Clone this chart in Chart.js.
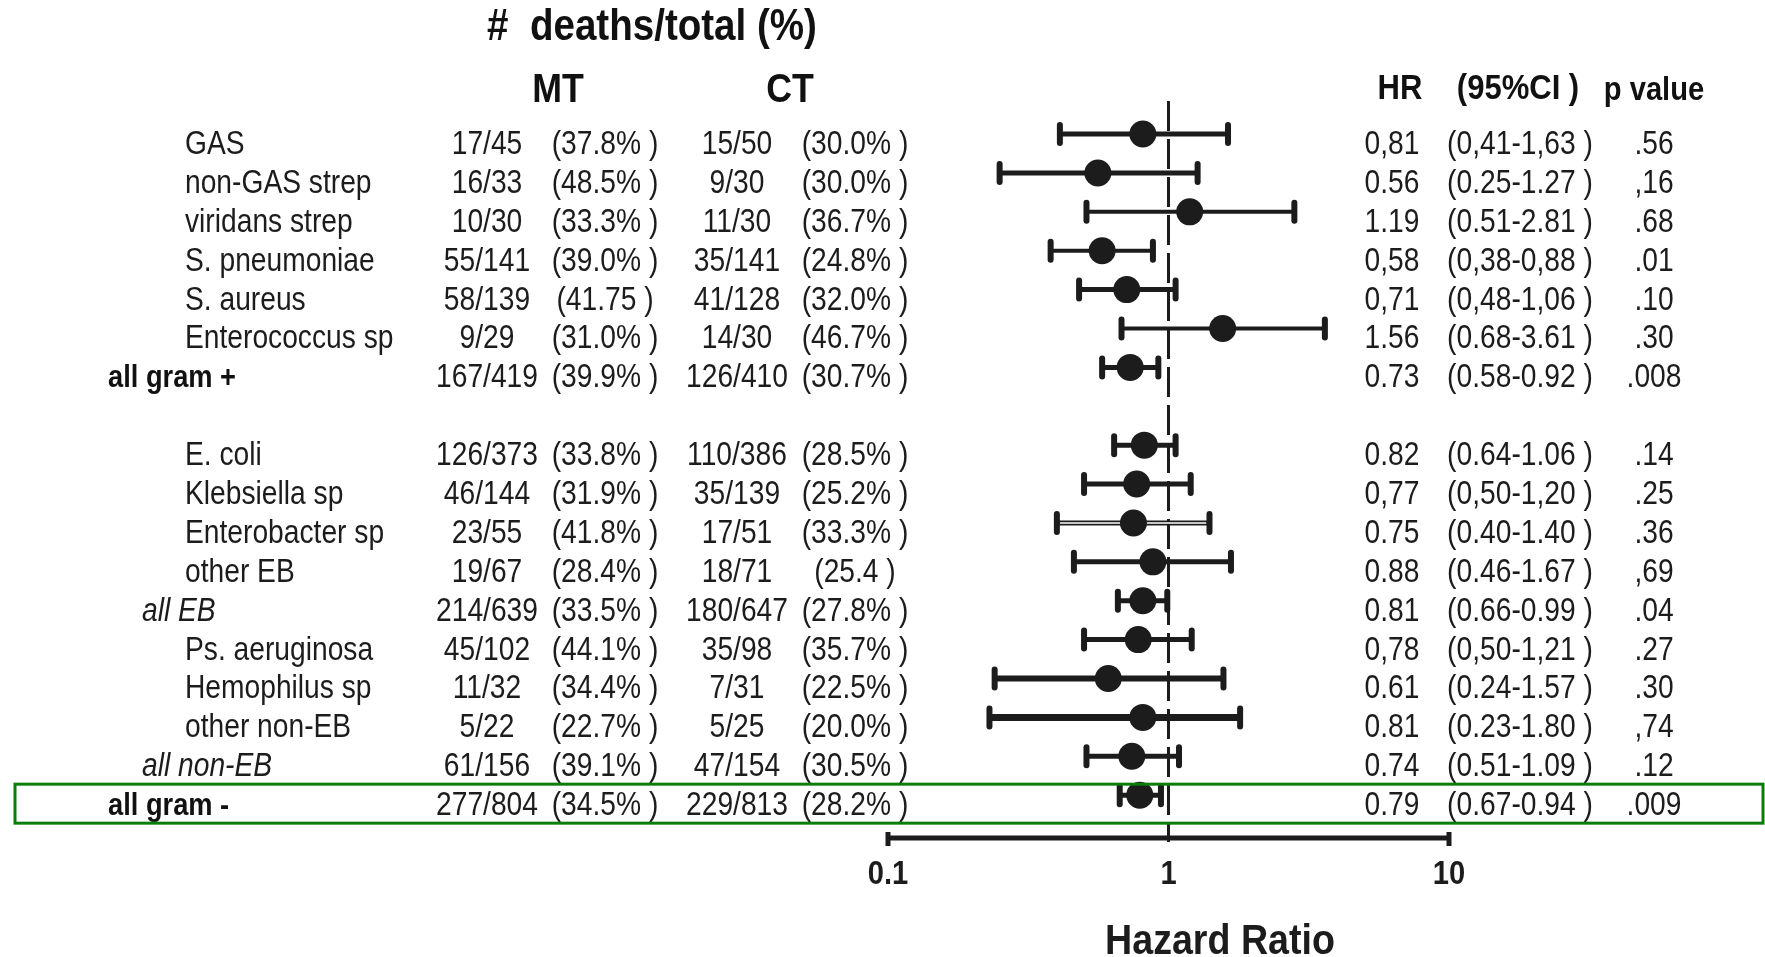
<!DOCTYPE html>
<html>
<head>
<meta charset="utf-8">
<script src="https://cdn.jsdelivr.net/npm/chart.js@4.4.1/dist/chart.umd.min.js"></script>
<style>
  body { margin: 0; background: #fff; }
  #wrap { width: 1765px; height: 957px; }
</style>
</head>
<body>
<div id="wrap"><canvas id="forest" width="1765" height="957"></canvas></div>
<script>
// ---- data ----
const groups = ['GAS', 'non-GAS strep', 'viridans strep', 'S. pneumoniae', 'S. aureus', 'Enterococcus sp', 'all gram +',
                'E. coli', 'Klebsiella sp', 'Enterobacter sp', 'other EB', 'all EB',
                'Ps. aeruginosa', 'Hemophilus sp', 'other non-EB', 'all non-EB', 'all gram -'];
// row slot of each group (slot 7 is the blank line between gram + and gram -)
const rowSlots = [0, 1, 2, 3, 4, 5, 6, 8, 9, 10, 11, 12, 13, 14, 15, 16, 17];
// 'b' = bold total, 'i' = italic subtotal, '' = plain
const rowKind = ['', '', '', '', '', '', 'b', '', '', '', '', 'i', '', '', '', 'i', 'b'];

const mtDeaths = ['17/45', '16/33', '10/30', '55/141', '58/139', '9/29', '167/419',
                  '126/373', '46/144', '23/55', '19/67', '214/639', '45/102', '11/32', '5/22', '61/156', '277/804'];
const mtPct = ['(37.8% )', '(48.5% )', '(33.3% )', '(39.0% )', '(41.75 )', '(31.0% )', '(39.9% )',
               '(33.8% )', '(31.9% )', '(41.8% )', '(28.4% )', '(33.5% )', '(44.1% )', '(34.4% )', '(22.7% )', '(39.1% )', '(34.5% )'];
const ctDeaths = ['15/50', '9/30', '11/30', '35/141', '41/128', '14/30', '126/410',
                  '110/386', '35/139', '17/51', '18/71', '180/647', '35/98', '7/31', '5/25', '47/154', '229/813'];
const ctPct = ['(30.0% )', '(30.0% )', '(36.7% )', '(24.8% )', '(32.0% )', '(46.7% )', '(30.7% )',
               '(28.5% )', '(25.2% )', '(33.3% )', '(25.4 )', '(27.8% )', '(35.7% )', '(22.5% )', '(20.0% )', '(30.5% )', '(28.2% )'];

const hazardRatio = [0.81, 0.56, 1.19, 0.58, 0.71, 1.56, 0.73, 0.82, 0.77, 0.75, 0.88, 0.81, 0.78, 0.61, 0.81, 0.74, 0.79];
const ciLow  = [0.41, 0.25, 0.51, 0.38, 0.48, 0.68, 0.58, 0.64, 0.50, 0.40, 0.46, 0.66, 0.50, 0.24, 0.23, 0.51, 0.67];
const ciHigh = [1.63, 1.27, 2.81, 0.88, 1.06, 3.61, 0.92, 1.06, 1.20, 1.40, 1.67, 0.99, 1.21, 1.57, 1.80, 1.09, 0.94];

const hrText = ['0,81', '0.56', '1.19', '0,58', '0,71', '1.56', '0.73', '0.82', '0,77', '0.75', '0.88', '0.81', '0,78', '0.61', '0.81', '0.74', '0.79'];
const ciText = ['(0,41-1,63 )', '(0.25-1.27 )', '(0.51-2.81 )', '(0,38-0,88 )', '(0,48-1,06 )', '(0.68-3.61 )', '(0.58-0.92 )',
                '(0.64-1.06 )', '(0,50-1,20 )', '(0.40-1.40 )', '(0.46-1.67 )', '(0.66-0.99 )', '(0,50-1,21 )', '(0.24-1.57 )',
                '(0.23-1.80 )', '(0.51-1.09 )', '(0.67-0.94 )'];
const pText = ['.56', ',16', '.68', '.01', '.10', '.30', '.008', '.14', '.25', '.36', ',69', '.04', '.27', '.30', ',74', '.12', '.009'];

const axisTicks = [0.1, 1, 10];
const axisTitle = 'Hazard Ratio';

// ---- styling ----
const INK = '#1c1c1c';
const FONT = '"Liberation Sans", Arial, sans-serif';
const barWidth = [5, 5, 4, 4, 5, 4, 5, 5, 5, 5, 5, 5, 5, 6, 7, 5, 5];
const TEXT_DROP = 11;  // text sits a bit lower than the marker row
const BOX_DROP = 8;

function drawText(ctx, s, x, y, font, align, color, sy) {
    ctx.save();
    ctx.font = font;
    ctx.fillStyle = color || INK;
    ctx.textAlign = align;
    ctx.textBaseline = 'middle';
    ctx.translate(x, y);
    ctx.scale(0.94, sy || 1.08);
    ctx.fillText(s, 0, 0);
    ctx.restore();
}

const forestPlugin = {
    id: 'forest',
    beforeDatasetsDraw(chart) {
        const ctx = chart.ctx;
        const xs = chart.scales.x, ys = chart.scales.y;
        const area = chart.chartArea;
        const x1 = xs.getPixelForValue(1);

        // reference line at HR = 1
        ctx.save();
        ctx.strokeStyle = INK;
        ctx.lineWidth = 3;
        ctx.setLineDash([30, 8]);
        ctx.beginPath();
        ctx.moveTo(x1, area.top);
        ctx.lineTo(x1, area.bottom + 6);
        ctx.stroke();
        ctx.restore();

        // confidence intervals
        ctx.save();
        ctx.strokeStyle = INK;
        groups.forEach((g, i) => {
            const y = ys.getPixelForValue(rowSlots[i]);
            const a = xs.getPixelForValue(ciLow[i]);
            const b = xs.getPixelForValue(ciHigh[i]);
            ctx.lineCap = 'butt';
            ctx.lineWidth = barWidth[i];
            ctx.beginPath();
            ctx.moveTo(a, y);
            ctx.lineTo(b, y);
            ctx.stroke();
            if (g === 'Enterobacter sp') {
                ctx.save();
                ctx.strokeStyle = '#fff';
                ctx.lineWidth = 1.5;
                ctx.beginPath();
                ctx.moveTo(a + 3, y);
                ctx.lineTo(b - 3, y);
                ctx.stroke();
                ctx.restore();
            }
            ctx.lineCap = 'round';
            ctx.lineWidth = 6;
            [a, b].forEach(px => {
                ctx.beginPath();
                ctx.moveTo(px, y - 9);
                ctx.lineTo(px, y + 9);
                ctx.stroke();
            });
        });
        ctx.restore();

        // x axis
        const l = xs.getPixelForValue(axisTicks[0]);
        const r = xs.getPixelForValue(axisTicks[axisTicks.length - 1]);
        const ay = area.bottom + 2;
        ctx.save();
        ctx.strokeStyle = INK;
        ctx.lineWidth = 5;
        ctx.beginPath();
        ctx.moveTo(l, ay);
        ctx.lineTo(r, ay);
        ctx.stroke();
        [l, r].forEach(px => {
            ctx.beginPath();
            ctx.moveTo(px, ay - 6);
            ctx.lineTo(px, ay + 8);
            ctx.stroke();
        });
        ctx.restore();
        axisTicks.forEach(t => {
            drawText(ctx, String(t), xs.getPixelForValue(t), ay + 37, 'bold 31px ' + FONT, 'center');
        });
        drawText(ctx, axisTitle, 1220, 942, 'bold 40px ' + FONT, 'center');
    },
    afterDraw(chart) {
        const ctx = chart.ctx;
        const ys = chart.scales.y;

        // headers
        drawText(ctx, '#  deaths/total (%)', 652, 28, 'bold 41px ' + FONT, 'center', '#111');
        drawText(ctx, 'MT', 558, 91, 'bold 38px ' + FONT, 'center', '#111');
        drawText(ctx, 'CT', 790, 91, 'bold 38px ' + FONT, 'center', '#111');
        drawText(ctx, 'HR', 1400, 89, 'bold 33px ' + FONT, 'center', '#111');
        drawText(ctx, '(95%CI )', 1518, 89, 'bold 33px ' + FONT, 'center', '#111');
        drawText(ctx, 'p value', 1654, 91, 'bold 31px ' + FONT, 'center', '#111');

        const body = '30px ' + FONT;
        groups.forEach((g, i) => {
            const y = ys.getPixelForValue(rowSlots[i]) + TEXT_DROP;
            if (rowKind[i] === 'b') {
                drawText(ctx, g, 108, y, 'bold 29px ' + FONT, 'left', '#111');
            } else if (rowKind[i] === 'i') {
                drawText(ctx, g, 142, y, 'italic ' + body, 'left');
            } else {
                drawText(ctx, g, 185, y, body, 'left');
            }
            drawText(ctx, mtDeaths[i], 487, y, body, 'center');
            drawText(ctx, mtPct[i], 605, y, body, 'center');
            drawText(ctx, ctDeaths[i], 737, y, body, 'center');
            drawText(ctx, ctPct[i], 855, y, body, 'center');
            drawText(ctx, hrText[i], 1392, y, body, 'center');
            drawText(ctx, ciText[i], 1520, y, body, 'center');
            drawText(ctx, pText[i], 1654, y, body, 'center');
        });

        // highlight box round the last row
        const last = groups.length - 1;
        const yb = ys.getPixelForValue(rowSlots[last]) + BOX_DROP;
        ctx.save();
        ctx.strokeStyle = '#0a7d0a';
        ctx.lineWidth = 3;
        ctx.strokeRect(15, yb - 19, 1748, 39);
        ctx.restore();
    }
};

const ctx = document.getElementById('forest').getContext('2d');
new Chart(ctx, {
    type: 'scatter',
    data: {
        datasets: [{
            data: hazardRatio.map((v, i) => ({ x: v, y: rowSlots[i] })),
            pointRadius: 13.5,
            pointHoverRadius: 13.5,
            backgroundColor: INK,
            borderWidth: 0
        }]
    },
    options: {
        responsive: false,
        animation: false,
        devicePixelRatio: 1,
        layout: { padding: { left: 888, right: 316, top: 101, bottom: 121 } },
        plugins: { legend: { display: false }, tooltip: { enabled: false } },
        scales: {
            x: { type: 'logarithmic', min: 0.1, max: 10, display: false },
            y: { type: 'linear', min: -0.85, max: 18.05, reverse: true, display: false }
        }
    },
    plugins: [forestPlugin]
});
</script>
</body>
</html>
